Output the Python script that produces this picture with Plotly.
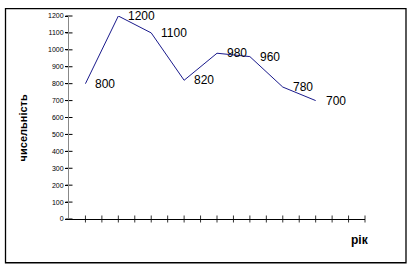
import plotly.graph_objects as go

values = [800, 1200, 1100, 820, 980, 960, 780, 700]
labels = ["800", "1200", "1100", "820", "980", "960", "780", "700"]
y_ticks = list(range(0, 1201, 100))
n_xticks = 18
x_title = "рік"
y_title = "чисельність"

xs = [2 * i + 1 for i in range(len(values))]
xtick_pos = list(range(1, n_xticks + 1))

FONT = "Liberation Sans, Arial"

fig = go.Figure()
fig.add_trace(go.Scatter(x=xs, y=values, mode="lines",
                         line=dict(color="#1a1a8c", width=1), hoverinfo="skip"))
# crossing tick marks on x axis
fig.add_trace(go.Scatter(x=xtick_pos, y=[0] * len(xtick_pos), mode="markers",
                         marker=dict(symbol="line-ns", size=5, line=dict(color="#333", width=1)),
                         cliponaxis=False, hoverinfo="skip"))
# crossing tick marks on y axis
fig.add_trace(go.Scatter(x=[0] * len(y_ticks), y=y_ticks, mode="markers",
                         marker=dict(symbol="line-ew", size=5, line=dict(color="#000", width=1)),
                         cliponaxis=False, hoverinfo="skip"))

for x, v, t in zip(xs, values, labels):
    fig.add_annotation(x=x, y=v, text=t, showarrow=False, xanchor="left", yanchor="middle",
                       xshift=8, font=dict(family=FONT, size=12, color="#000"))

fig.add_annotation(xref="paper", yref="paper", x=0.983, y=-0.102, text="<b>" + x_title + "</b>",
                   showarrow=False, xanchor="center", yanchor="middle",
                   font=dict(family=FONT, size=12, color="#000"))
fig.add_annotation(xref="paper", yref="paper", x=-0.155, y=0.447, text="<b>" + y_title + "</b>",
                   showarrow=False, xanchor="center", yanchor="middle", textangle=-90,
                   font=dict(family=FONT, size=11, color="#000"))

fig.add_shape(type="rect", xref="paper", yref="paper",
              x0=-0.2145, x1=1.1385, y0=-0.2155, y1=1.0365,
              line=dict(color="#000", width=1.3), layer="above")

fig.update_layout(
    width=412, height=268,
    margin=dict(l=69, r=47, t=13, b=49),
    paper_bgcolor="white", plot_bgcolor="white",
    showlegend=False,
    xaxis=dict(range=[0, n_xticks], tickvals=xtick_pos, showticklabels=False,
               ticks="", showline=True, linecolor="#000", linewidth=1,
               showgrid=False, zeroline=False),
    yaxis=dict(range=[0, 1200], tickvals=y_ticks, ticks="outside", ticklen=3,
               tickcolor="#000", showline=True, linecolor="#888", linewidth=1,
               showgrid=False, zeroline=False,
               tickfont=dict(family=FONT, size=7, color="#000")),
)

fig.write_html("out.html")
